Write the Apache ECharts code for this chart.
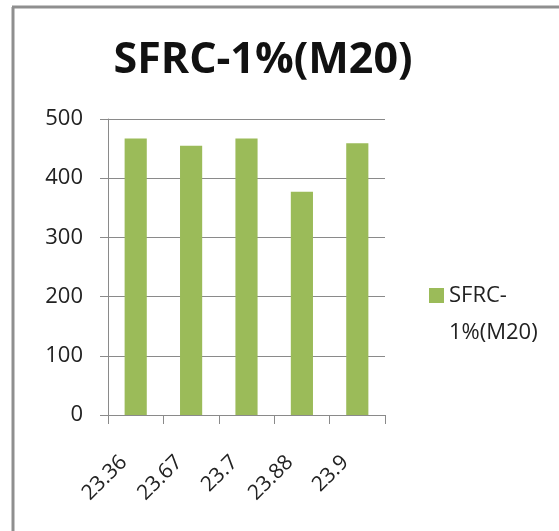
<!DOCTYPE html>
<html>
<head>
<meta charset="utf-8">
<script src="https://cdn.jsdelivr.net/npm/echarts@6/dist/echarts.min.js"></script>
<style>
html,body{margin:0;padding:0;background:#fff;}
#chart{width:559px;height:531px;}
</style>
</head>
<body>
<div id="chart"></div>
<script>
const titleText = 'SFRC-1%(M20)';
const seriesName = 'SFRC-1%(M20)';
const categories = ['23.36', '23.67', '23.7', '23.88', '23.9'];
const values = [467, 455, 467, 377, 459];
const yTicks = [0, 100, 200, 300, 400, 500];

const chart = echarts.init(document.getElementById('chart'));
const gray = '#8a8a8a';
const font = '"Open Sans", sans-serif';
chart.setOption({
  animation: false,
  backgroundColor: '#fff',
  title: {
    text: titleText,
    left: 258,
    top: 34,
    textAlign: 'center',
    textStyle: {fontFamily: font, fontSize: 43, fontWeight: 'bold', color: '#111'}
  },
  legend: {
    data: [seriesName],
    left: 424,
    top: 235,
    orient: 'vertical',
    itemWidth: 15,
    itemHeight: 15,
    itemGap: 6,
    icon: 'rect',
    formatter: function (n) { return '\u00a0\n' + n.replace('-', '-\n'); },
    textStyle: {fontFamily: font, fontSize: 22, color: '#222', lineHeight: 37}
  },
  grid: {left: 108, right: 174, top: 119, bottom: 116},
  xAxis: {
    type: 'category',
    data: categories,
    axisLine: {lineStyle: {color: gray, width: 1}},
    axisTick: {show: true, length: 9, lineStyle: {color: gray}},
    axisLabel: {rotate: 45, margin: 32, padding: [0, 17, 0, 0], fontFamily: font, fontSize: 21, color: '#222'}
  },
  yAxis: {
    type: 'value',
    min: yTicks[0],
    max: yTicks[yTicks.length - 1],
    interval: 100,
    axisLine: {show: true, lineStyle: {color: gray, width: 1}},
    axisTick: {show: true, length: 8, lineStyle: {color: gray}},
    splitLine: {show: true, lineStyle: {color: gray, width: 1}},
    axisLabel: {margin: 25, fontFamily: font, fontSize: 22, color: '#222'}
  },
  series: [{
    name: seriesName,
    type: 'bar',
    data: values,
    barWidth: '40%',
    itemStyle: {color: '#9BBB59'}
  }],
  graphic: [
    {type: 'line', shape: {x1: 13, y1: 7, x2: 13, y2: 531}, style: {stroke: '#8f8f8f', lineWidth: 3}},
    {type: 'line', shape: {x1: 12, y1: 7, x2: 559, y2: 7}, style: {stroke: '#8f8f8f', lineWidth: 3}}
  ]
});
</script>
</body>
</html>
